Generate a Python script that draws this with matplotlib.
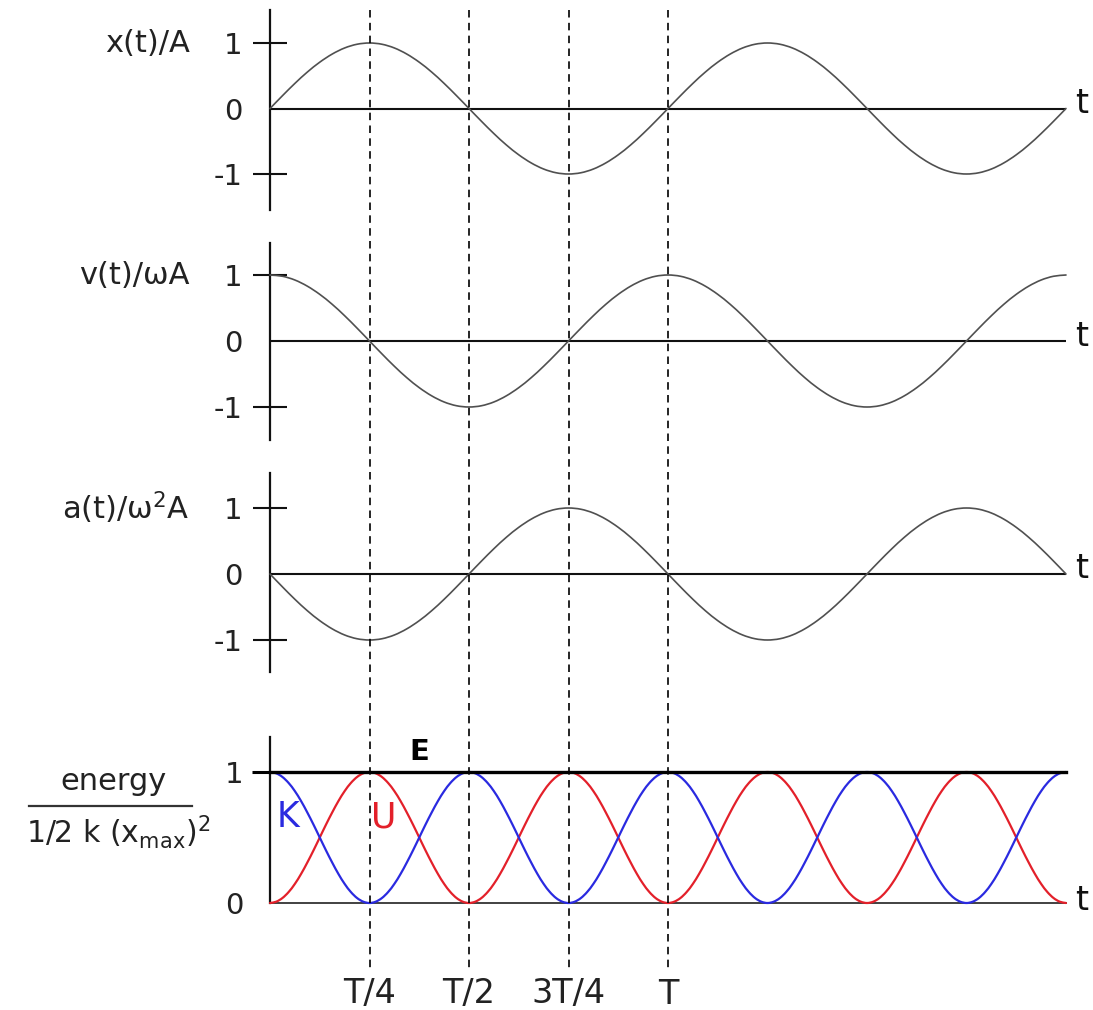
import numpy as np
import matplotlib
matplotlib.use('Agg')
import matplotlib.pyplot as plt
from matplotlib.path import Path
from matplotlib.patches import PathPatch

plt.rcParams['font.family'] = ['DejaVu Sans']
plt.rcParams['mathtext.default'] = 'regular'

# ---------------- data ----------------
# x(t)/A sampled every T/32 over 0..2T
position = [0, .195, .383, .556, .707, .831, .924, .981, 1, .981, .924, .831, .707, .556, .383, .195,
            0, -.195, -.383, -.556, -.707, -.831, -.924, -.981, -1, -.981, -.924, -.831, -.707, -.556, -.383, -.195,
            0, .195, .383, .556, .707, .831, .924, .981, 1, .981, .924, .831, .707, .556, .383, .195,
            0, -.195, -.383, -.556, -.707, -.831, -.924, -.981, -1, -.981, -.924, -.831, -.707, -.556, -.383, -.195,
            0]
# v(t)/wA sampled every T/32
velocity = [1, .981, .924, .831, .707, .556, .383, .195, 0, -.195, -.383, -.556, -.707, -.831, -.924, -.981,
            -1, -.981, -.924, -.831, -.707, -.556, -.383, -.195, 0, .195, .383, .556, .707, .831, .924, .981,
            1, .981, .924, .831, .707, .556, .383, .195, 0, -.195, -.383, -.556, -.707, -.831, -.924, -.981,
            -1, -.981, -.924, -.831, -.707, -.556, -.383, -.195, 0, .195, .383, .556, .707, .831, .924, .981,
            1]
# a(t)/w^2A sampled every T/32
acceleration = [0, -.195, -.383, -.556, -.707, -.831, -.924, -.981, -1, -.981, -.924, -.831, -.707, -.556, -.383, -.195,
                0, .195, .383, .556, .707, .831, .924, .981, 1, .981, .924, .831, .707, .556, .383, .195,
                0, -.195, -.383, -.556, -.707, -.831, -.924, -.981, -1, -.981, -.924, -.831, -.707, -.556, -.383, -.195,
                0, .195, .383, .556, .707, .831, .924, .981, 1, .981, .924, .831, .707, .556, .383, .195,
                0]
# potential energy U sampled every T/64
potential = [0, .010, .038, .084, .146, .222, .309, .402, .500, .598, .691, .778, .854, .916, .962, .990,
             1, .990, .962, .916, .854, .778, .691, .598, .500, .402, .309, .222, .146, .084, .038, .010,
             0, .010, .038, .084, .146, .222, .309, .402, .500, .598, .691, .778, .854, .916, .962, .990,
             1, .990, .962, .916, .854, .778, .691, .598, .500, .402, .309, .222, .146, .084, .038, .010,
             0, .010, .038, .084, .146, .222, .309, .402, .500, .598, .691, .778, .854, .916, .962, .990,
             1, .990, .962, .916, .854, .778, .691, .598, .500, .402, .309, .222, .146, .084, .038, .010,
             0, .010, .038, .084, .146, .222, .309, .402, .500, .598, .691, .778, .854, .916, .962, .990,
             1, .990, .962, .916, .854, .778, .691, .598, .500, .402, .309, .222, .146, .084, .038, .010,
             0]
# kinetic energy K sampled every T/64
kinetic = [1, .990, .962, .916, .854, .778, .691, .598, .500, .402, .309, .222, .146, .084, .038, .010,
           0, .010, .038, .084, .146, .222, .309, .402, .500, .598, .691, .778, .854, .916, .962, .990,
           1, .990, .962, .916, .854, .778, .691, .598, .500, .402, .309, .222, .146, .084, .038, .010,
           0, .010, .038, .084, .146, .222, .309, .402, .500, .598, .691, .778, .854, .916, .962, .990,
           1, .990, .962, .916, .854, .778, .691, .598, .500, .402, .309, .222, .146, .084, .038, .010,
           0, .010, .038, .084, .146, .222, .309, .402, .500, .598, .691, .778, .854, .916, .962, .990,
           1, .990, .962, .916, .854, .778, .691, .598, .500, .402, .309, .222, .146, .084, .038, .010,
           0, .010, .038, .084, .146, .222, .309, .402, .500, .598, .691, .778, .854, .916, .962, .990,
           1]
total_energy_t = [0, 2]
total_energy = [1, 1]

t_span = [0, 2]                      # time axis in units of T
osc_ticks = [-1, 0, 1]
osc_tick_labels = ['-1', '0', '1']
energy_ticks = [0, 1]
energy_tick_labels = ['0', '1']
panel_labels = ['x(t)/A', 'v(t)/ωA', 'a(t)/ω$^2$A']
mark_times = [0.25, 0.5, 0.75, 1.0]
mark_labels = ['T/4', 'T/2', '3T/4', 'T']

# ---------------- layout helpers ----------------
W, H = 1093, 1010
fig = plt.figure(figsize=(W / 100, H / 100), dpi=100)
fig.patch.set_facecolor('white')

X0, X1 = 270, 1066          # pixel positions of t=0 and t=2T
TXT = '#222222'
CURVE = '#505050'


def smooth_line(ax, x, y, **kw):
    """Draw a smooth (Catmull-Rom / cubic Bezier) line through the data points."""
    p = np.column_stack([np.asarray(x, float), np.asarray(y, float)])
    m = np.empty_like(p)
    m[1:-1] = (p[2:] - p[:-2]) / 2.0
    m[0] = p[1] - p[0]
    m[-1] = p[-1] - p[-2]
    verts = [p[0]]
    codes = [Path.MOVETO]
    for i in range(len(p) - 1):
        verts += [p[i] + m[i] / 3.0, p[i + 1] - m[i + 1] / 3.0, p[i + 1]]
        codes += [Path.CURVE4] * 3
    patch = PathPatch(Path(verts, codes), fill=False, capstyle='round', joinstyle='round', **kw)
    ax.add_patch(patch)
    return patch


def axes_at(zero_px, unit_px, ylo, yhi):
    bottom_px = zero_px - unit_px * ylo
    top_px = zero_px - unit_px * yhi
    ax = fig.add_axes([X0 / W, 1 - bottom_px / H, (X1 - X0) / W, (bottom_px - top_px) / H])
    ax.set_xlim(t_span)
    ax.set_ylim(ylo, yhi)
    ax.patch.set_alpha(0)
    for s in ['top', 'right', 'bottom']:
        ax.spines[s].set_visible(False)
    ax.spines['left'].set_linewidth(1.6)
    ax.spines['left'].set_color('#111111')
    ax.set_xticks([])
    return ax


series = [position, velocity, acceleration]
specs = [(108.5, 65.5, -1.55, 1.50),
         (341.0, 66.0, -1.50, 1.49),
         (574.0, 66.0, -1.49, 1.53)]
label_y = [44, 276, 508]

for data, (z, u, lo, hi), lab, ly in zip(series, specs, panel_labels, label_y):
    ax = axes_at(z, u, lo, hi)
    t = np.linspace(t_span[0], t_span[1], len(data))
    ax.axhline(0, color='#111111', lw=1.5, zorder=2)
    smooth_line(ax, t, data, edgecolor=CURVE, lw=1.2, zorder=3, clip_on=False)
    ax.set_yticks(osc_ticks)
    ax.set_yticklabels(osc_tick_labels)
    ax.tick_params(axis='y', direction='inout', length=25, width=1.5,
                   color='#111111', pad=7, labelsize=21, labelcolor=TXT)
    ax.yaxis.get_major_ticks()[1].tick1line.set_visible(False)
    fig.text(190 / W, 1 - ly / H, lab, ha='right', va='center', fontsize=22, color=TXT)
    fig.text(1082 / W, 1 - (z - 5) / H, 't', ha='center', va='center', fontsize=24, color='#111111')

# ---------------- energy panel ----------------
axe = axes_at(903, 131, 0.0, 1.27)
te = np.linspace(t_span[0], t_span[1], len(kinetic))
axe.plot(t_span, [0, 0], color='#333333', lw=1.3, zorder=2, clip_on=False)
smooth_line(axe, te, potential, edgecolor='#e3202a', lw=1.6, zorder=3, clip_on=False)
smooth_line(axe, te, kinetic, edgecolor='#2a2ae0', lw=1.6, zorder=3, clip_on=False)
axe.plot(total_energy_t, total_energy, color='black', lw=2.4, zorder=4, clip_on=False)
axe.set_yticks(energy_ticks)
axe.set_yticklabels(energy_tick_labels)
axe.tick_params(axis='y', direction='out', length=13, width=2.2,
                color='black', pad=6, labelsize=21, labelcolor=TXT)
axe.yaxis.get_major_ticks()[0].tick1line.set_visible(False)
axe.text(0.045, 0.66, 'K', color='#2a2ae0', fontsize=25, ha='center', va='center')
axe.text(0.286, 0.65, 'U', color='#e3202a', fontsize=25, ha='center', va='center')
axe.text(0.374, 1.15, 'E', color='black', fontsize=21, fontweight='bold', ha='center', va='center')
fig.text(1082 / W, 1 - 901 / H, 't', ha='center', va='center', fontsize=24, color='#111111')

# energy label as fraction
fig.text(113 / W, 1 - 781 / H, 'energy', ha='center', va='center', fontsize=22, color=TXT)
fig.add_artist(plt.Line2D([29 / W, 192 / W], [1 - 806 / H, 1 - 806 / H], color='#333333', lw=1.6))
fig.text(118 / W, 1 - 832 / H, '1/2 k (x$_{max}$)$^2$', ha='center', va='center', fontsize=21.5, color=TXT)

# ---------------- dashed markers across all panels ----------------
axo = fig.add_axes([X0 / W, 0, (X1 - X0) / W, 1])
axo.set_xlim(t_span)
axo.set_ylim(H, 0)
axo.axis('off')
for tm, lab in zip(mark_times, mark_labels):
    axo.plot([tm, tm], [10, 972], color='black', lw=1.2, dashes=(4.5, 3.2), zorder=5)
    axo.text(tm, 994, lab, ha='center', va='center', fontsize=24, color=TXT)

fig.savefig('out.png', dpi=100, facecolor='white')
